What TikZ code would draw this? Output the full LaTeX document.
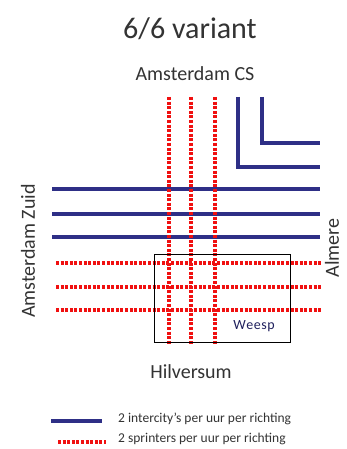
\documentclass[tikz,border=0pt]{standalone}
\usepackage{fontspec}
\setmainfont{Carlito}
\definecolor{icblue}{HTML}{2E2F86}
\definecolor{sprred}{HTML}{F01010}
\definecolor{txt}{HTML}{333333}
\begin{document}
\begin{tikzpicture}[x=1pt,y=-1pt,
  ic/.style={draw=icblue,line width=3.8pt},
  spr/.style={draw=sprred,line width=3.8pt,dash pattern=on 3pt off 1.6pt},
  lbl/.style={text=txt,inner sep=0pt},
  big/.style={font=\fontsize{20}{22}\selectfont},
  box/.style={draw=black,line width=0.7pt}]
\useasboundingbox[fill=white] (0,0) rectangle (347,449);
% titles
\node[lbl,font=\fontsize{30}{32}\selectfont] (title) at (190,29) {6/6 variant};
\node[lbl,big] (cs) at (195,74) {Amsterdam CS};
\node[lbl,big] (hil) at (191,372) {Hilversum};
\node[lbl,big,rotate=90] (zuid) at (28,251) {Amsterdam Zuid};
\node[lbl,big,rotate=90] (alm) at (332,248) {Almere};
% Weesp box
\coordinate (bxa) at (154,254);
\coordinate (bxb) at (290,342);
% horizontal blue lines
\foreach \y [count=\i] in {189,214,237}{
  \coordinate (bl\i) at (52,\y);
  \coordinate (br\i) at (320,\y);
}
% horizontal red lines
\foreach \y [count=\i] in {263,287,310}{
  \coordinate (rl\i) at (56,\y);
  \coordinate (rr\i) at (322,\y);
}
% vertical red lines
\foreach \x [count=\i] in {169,191,215}{
  \coordinate (vt\i) at (\x,97);
  \coordinate (vb\i) at (\x,345);
}
% blue corner lines
\coordinate (c1t) at (238,97);
\coordinate (c1k) at (238,167);
\coordinate (c1e) at (320,167);
\coordinate (c2t) at (262,97);
\coordinate (c2k) at (262,143);
\coordinate (c2e) at (320,143);
\foreach \i in {1,2,3}{\draw[ic] (bl\i) -- (br\i);}
\foreach \i in {1,2,3}{\draw[spr] (rl\i) -- (rr\i);}
\foreach \i in {1,2,3}{\draw[spr] (vt\i) -- (vb\i);}
\draw[ic] (c1t) -- (c1k) -- (c1e);
\draw[ic] (c2t) -- (c2k) -- (c2e);
\draw[box] (bxa) rectangle (bxb);
\node[lbl,text=icblue!70!black,font=\fontsize{14}{16}\selectfont] (weesp) at (254,326) {W\kern0.5pt e\kern0.5pt e\kern0.5pt s\kern0.5pt p};
% legend
\coordinate (l1a) at (51,421);
\coordinate (l1b) at (102,421);
\coordinate (l2a) at (58,442);
\coordinate (l2b) at (106,442);
\draw[ic] (l1a) -- (l1b);
\draw[spr] (l2a) -- (l2b);
\node[lbl,anchor=west,font=\fontsize{13.5}{15}\selectfont] (leg1) at (118,419) {2 intercity's per uur per richting};
\node[lbl,anchor=west,font=\fontsize{13.5}{15}\selectfont] (leg2) at (118,439) {2 sprinters per uur per richting};
\end{tikzpicture}
\end{document}
